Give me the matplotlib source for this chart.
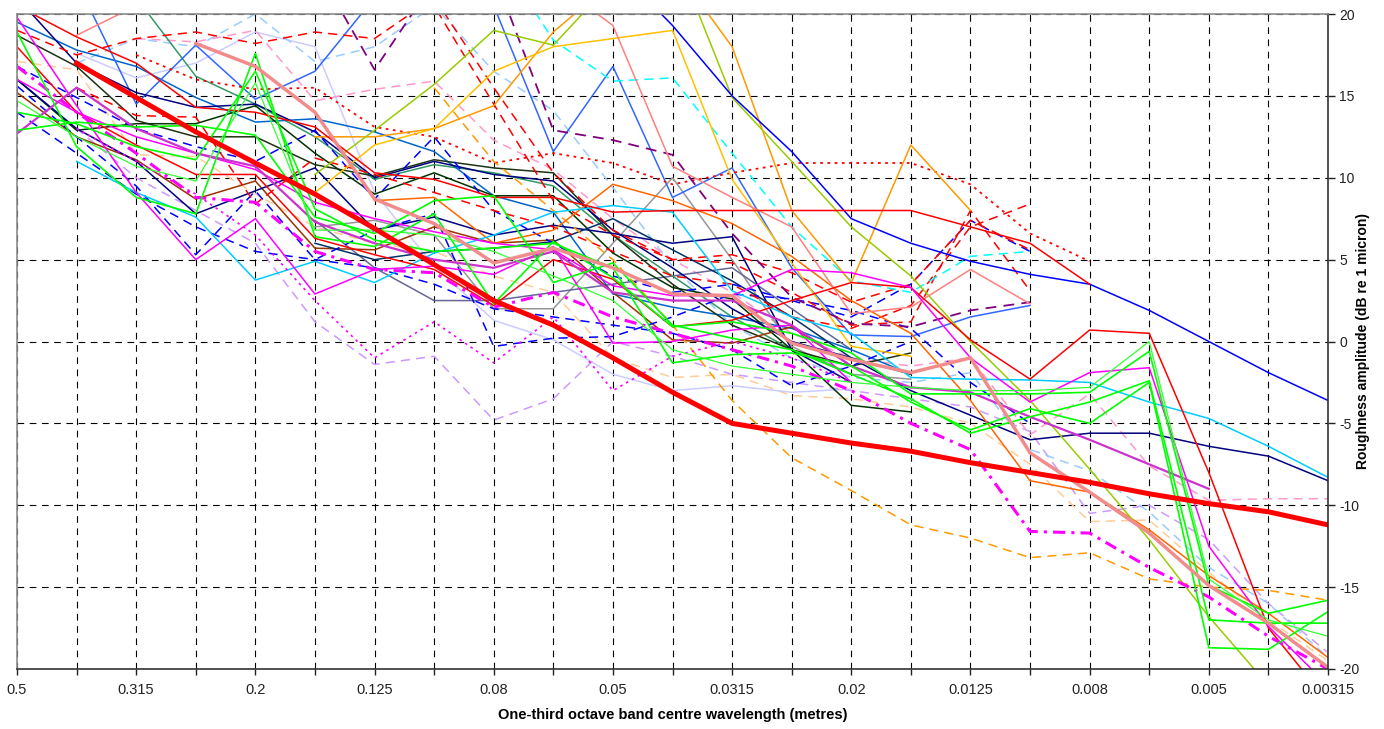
import numpy as np
import matplotlib
matplotlib.use("Agg")
import matplotlib.pyplot as plt

plt.rcParams['font.family'] = ['Liberation Sans', 'DejaVu Sans']
plt.rcParams['axes.unicode_minus'] = False

N = np.nan

# one-third octave band centre wavelengths (m)
bands = ['0.5', '0.4', '0.315', '0.25', '0.2', '0.16', '0.125', '0.1', '0.08',
         '0.063', '0.05', '0.04', '0.0315', '0.025', '0.02', '0.016', '0.0125',
         '0.01', '0.008', '0.0063', '0.005', '0.004', '0.00315']

# roughness levels, dB re 1 micron
limit = [N, 17.0, 14.9, 12.8, 10.9, 9.0, 6.9, 4.7, 2.5, 1.0, -1.0, -3.1, -5.0, -5.6, -6.2, -6.7, -7.4, -8.0, -8.6, -9.3, -9.9, -10.4, -11.2]
salmon_thick = [N, N, N, 18.2, 16.8, 14.0, 8.7, 7.2, 4.8, 5.7, 4.5, 2.9, 2.8, -0.1, -1.1, -1.9, -1.0, -6.8, -9.2, -11.7, -14.9, -17.2, -19.9]
blue_long = [N, N, N, N, N, N, N, N, N, N, 23.0, 19.3, 15.0, 11.6, 7.5, 6.0, 4.9, 4.1, 3.5, 1.9, 0.0, -1.9, -3.6]
navy_long = [21.0, 17.0, 15.2, 14.3, 14.5, 12.8, 10.0, 11.0, 10.2, 9.8, 6.8, 4.5, 2.0, 0.0, -1.0, -3.0, -4.5, -6.0, -5.6, -5.6, -6.4, -7.0, -8.5]
sky = [N, 11.0, 9.1, 7.6, 3.75, 4.9, 3.6, 5.4, 6.5, 7.9, 8.3, 7.9, 3.1, 1.5, 0.5, -2.2, -2.3, -2.35, -2.5, -3.7, -4.7, -6.4, -8.3]
red_bump = [18.0, 14.0, 12.0, 10.2, 10.2, 6.3, 5.3, 4.4, 2.2, 5.0, 3.8, 0.9, 1.3, 2.5, 3.6, 3.3, 0.1, -2.3, 0.7, 0.5, -8.0, -17.5, -22.0]
red_plateau = [20.5, 18.6, 17.0, 14.3, 14.0, 13.1, 10.3, 9.9, 8.8, 8.8, 7.9, 8.0, 8.0, 8.0, 8.0, 8.0, 7.0, 6.0, 3.5, N, N, N, N]
orange_spike = [N, N, N, N, N, 12.5, 12.5, 13.0, 14.4, 18.9, 22.0, 23.0, 18.0, 8.0, 3.6, 12.0, 8.0, N, N, N, N, N, N]
gold = [N, N, N, N, N, 9.1, 12.0, 13.0, 16.5, 18.0, 18.5, 19.0, 9.9, 4.8, -0.3, -0.9, N, N, N, N, N, N, N]
yellowgreen = [N, N, N, N, N, 10.2, 12.9, 15.7, 19.0, 18.1, 22.0, 24.0, 14.9, 11.0, 7.0, 4.0, 0.0, -3.6, -7.8, -12.1, -16.8, -21.0, N]
salmon_thin = [N, 18.7, 20.5, 22.0, 23.0, 23.0, 23.0, 24.0, 24.0, 22.0, 19.3, 10.7, 8.8, 7.0, 1.7, 2.1, 4.4, 2.3, N, N, N, N, N]
cyan_dash = [N, N, N, N, N, N, N, N, 24.0, 18.4, 15.9, 16.1, 11.5, 7.0, 3.7, 3.0, 5.2, 5.5, N, N, N, N, N]
purple_dash = [N, N, N, N, N, 23.0, 16.6, 22.0, 22.5, 12.9, 12.3, 11.4, 6.6, 2.7, 1.1, 0.9, 1.9, 2.4, N, N, N, N, N]
lightblue_dash = [N, 17.0, 18.5, 18.0, 20.0, 17.1, 18.0, 20.5, 16.5, 14.1, 9.4, 4.6, 1.0, -1.0, -2.2, -2.5, -1.9, -6.6, -7.9, -10.4, -13.8, -16.0, -19.3]
lavender = [N, 17.6, 16.1, 17.0, 18.9, 18.0, 9.1, 4.6, 1.3, 0.1, -2.0, -3.0, -2.7, -3.1, -2.9, N, N, N, N, N, N, N, N]
lavender_dash = [16.0, 13.0, 10.0, 8.0, 6.0, 1.2, -1.4, -0.9, -4.8, -3.5, 0.0, -0.9, -2.0, -2.5, -3.0, -3.5, -4.0, -5.5, -10.5, -10.0, -12.1, -16.0, -19.0]
magenta1 = [19.8, 14.4, 9.1, 5.0, 7.5, 2.9, 4.4, 4.6, 4.1, 5.8, -0.1, 0.0, 0.7, 1.0, -2.5, N, N, N, N, N, N, N, N]
magenta2 = [16.0, 14.0, 12.5, 11.5, 10.5, 8.5, 7.5, 6.7, 6.0, 5.6, 3.4, 2.8, 2.8, 4.4, 4.2, 3.3, -1.0, -3.7, -1.9, -1.6, -12.5, -17.4, -21.0]
magenta3 = [12.7, 15.5, 13.0, 11.5, 10.7, 7.3, 6.0, 5.0, 4.5, 5.5, 3.0, 2.5, 2.5, 1.0, -1.5, -2.8, -3.1, -4.6, -6.0, -7.5, -9.0, N, N]
magenta_dash = [16.8, 14.0, 11.5, 8.8, 8.5, 5.5, 4.4, 4.2, 2.1, 3.0, 1.5, 0.5, -0.5, -1.5, -3.0, -5.0, -6.6, -11.6, -11.7, -13.8, -15.6, -18.0, -20.0]
magenta_dot = [N, 13.0, 11.0, 9.0, 6.5, 2.5, -1.0, 1.2, -1.3, 1.5, -3.0, -0.9, 0.0, -1.0, -2.5, N, N, N, N, N, N, N, N]
green1 = [18.9, 11.9, 8.8, 7.8, 17.6, 6.4, 5.8, 7.8, 2.3, 6.1, 3.9, 0.9, 1.2, 0.5, -0.7, -3.2, -3.2, -3.2, -3.1, -0.6, -14.9, -16.6, -15.8]
green2 = [14.0, 13.3, 11.9, 11.1, 16.5, 8.1, 6.2, 5.5, 5.7, 6.0, 4.5, -1.3, -0.8, -0.7, -1.5, -3.7, -5.4, -4.1, -5.0, -2.5, -18.7, -18.8, -16.5]
green3 = [12.9, 13.4, 13.1, 13.2, 12.6, 7.6, 6.6, 8.6, 8.9, 3.6, 4.8, 1.0, 0.2, -0.5, -2.0, -3.5, -5.6, -4.6, -3.7, -2.4, -17.0, -17.2, -17.2]
green4 = [14.7, 12.5, 10.7, 9.8, 15.8, 6.8, 6.8, 6.5, 5.5, 4.0, 2.5, -0.5, -1.5, -2.0, -2.5, -2.8, -3.0, -3.0, -2.8, 0.0, -14.5, -17.0, -18.0]
darkgreen1 = [18.7, 16.8, 13.5, 12.5, 12.5, 10.8, 10.1, 11.1, 10.6, 10.3, 6.5, 3.5, 1.0, -0.5, -1.5, -0.7, N, N, N, N, N, N, N]
darkgreen2 = [16.0, 12.9, 13.3, 13.3, 14.4, 11.5, 9.0, 10.3, 8.9, 8.9, 5.4, 3.3, 2.6, -0.5, -3.9, -4.3, N, N, N, N, N, N, N]
brown = [15.2, 12.5, 11.1, 8.7, 9.8, 5.7, 5.6, 7.0, 6.0, 6.2, 3.0, 0.1, -0.1, 0.9, -1.5, N, N, N, N, N, N, N, N]
steelblue = [19.5, 17.8, 16.8, 14.9, 13.4, 13.6, 12.8, 11.6, 8.9, 7.9, 2.9, 2.1, 1.5, 0.8, -0.5, -2.0, N, N, N, N, N, N, N]
royalblue = [N, 22.0, 14.5, 18.1, 14.8, 16.5, 21.0, 23.0, 20.5, 11.6, 16.8, 8.8, 10.6, 4.5, 0.4, 0.3, 1.5, 2.2, N, N, N, N, N]
seagreen = [N, N, 21.0, 16.2, 14.5, 12.5, 9.9, 10.8, 10.3, 9.5, 6.5, 4.0, 1.5, -0.5, -2.0, N, N, N, N, N, N, N, N]
grey = [N, N, N, N, N, 7.0, 7.4, 6.5, 2.0, 2.0, 6.0, 10.0, 5.0, -0.3, -2.0, -2.3, N, N, N, N, N, N, N]
slate = [N, N, N, N, N, 7.4, 4.5, 2.5, 2.5, 3.0, 3.5, 4.0, 4.5, 2.0, -0.5, N, N, N, N, N, N, N, N]
navy2 = [16.0, 13.0, 11.0, 7.8, 9.2, 10.6, 6.8, 7.6, 6.5, 7.1, 6.6, 6.0, 6.4, -0.5, -2.5, N, N, N, N, N, N, N, N]
darknavy = [N, N, N, N, N, 6.0, 5.0, 5.5, 5.7, 6.1, 7.5, 5.6, 3.7, 1.5, -1.0, -2.0, N, N, N, N, N, N, N]
blue_dash1 = [16.8, 14.9, 13.0, 11.9, 11.0, 12.9, 8.7, 12.5, 8.0, 6.0, 4.0, 3.0, 3.5, 2.5, 1.5, 3.5, 7.4, 5.5, N, N, N, N, N]
blue_dash2 = [15.6, 12.5, 9.5, 5.3, 9.2, 5.0, 6.8, 7.8, -0.3, 0.2, 0.3, 1.5, 2.9, 2.6, 1.9, 0.8, -2.5, -5.0, N, N, N, N, N]
blue_dash3 = [14.0, 11.5, 9.0, 7.0, 5.5, 5.0, 4.5, 3.5, 2.0, 1.5, 1.0, 0.5, -0.5, -2.7, -1.5, 0.0, N, N, N, N, N, N, N]
red_dash1 = [19.0, 17.5, 18.5, 18.9, 18.2, 18.9, 18.5, 21.0, 15.5, 10.3, 6.8, 5.0, 4.8, 3.0, 1.0, 1.2, 8.0, 3.1, N, N, N, N, N]
red_dash2 = [N, N, N, N, N, N, 24.0, 20.5, 14.5, 8.6, 6.5, 5.0, 5.3, 4.2, 2.4, 3.5, 7.4, 5.6, N, N, N, N, N]
red_dash3 = [N, 15.5, 13.8, 13.7, 8.4, 11.2, 10.2, 9.1, 8.0, 7.0, 5.5, 4.0, 3.5, 1.5, 0.8, 2.2, 7.0, 8.4, N, N, N, N, N]
red_dot = [N, N, 17.5, 16.0, 15.4, 15.5, 13.1, 12.5, 10.9, 11.5, 10.9, 9.6, 10.3, 10.9, 10.9, 10.9, 9.6, 6.6, 4.9, N, N, N, N]
pink_dash = [N, N, 18.5, 18.3, 19.0, 14.7, 15.4, 15.9, 12.3, 10.5, 7.5, 5.0, 3.0, 0.5, -1.0, -1.5, -1.0, -5.7, -3.2, -7.6, -9.7, -9.6, -9.6]
orange_dash = [N, N, N, N, N, N, N, 15.5, 11.0, 8.0, 5.0, 1.0, -3.6, -7.1, -9.1, -11.2, -12.0, -13.2, -12.9, -14.5, -15.0, -15.2, -15.8]
peach_dash = [17.1, 16.6, 11.4, 11.3, 9.0, 7.0, 6.0, 5.5, 4.0, 3.0, -1.0, -2.2, -2.0, -3.3, -3.5, -4.0, -5.0, -7.5, -11.0, -10.9, -14.1, -17.0, -19.5]
orange2 = [N, N, N, N, N, N, 8.6, 8.8, 6.0, 6.8, 9.6, 8.6, 7.2, 5.2, 2.5, 0.5, -3.6, -8.5, -9.2, -11.5, -14.3, -16.6, -19.3]

dash = (0, (6, 4))
dot = (0, (1.5, 2.5))

# (values, colour, linestyle, width)
series = [
    (peach_dash, '#FFCC99', dash, 1.1),
    (lavender, '#CCCCFF', '-', 1.1),
    (lavender_dash, '#CC99FF', dash, 1.1),
    (lightblue_dash, '#99CCFF', dash, 1.1),
    (pink_dash, '#FF99CC', dash, 1.1),
    (grey, '#969696', '-', 1.1),
    (slate, '#666699', '-', 1.1),
    (seagreen, '#339966', '-', 1.1),
    (steelblue, '#0066CC', '-', 1.1),
    (royalblue, '#3366FF', '-', 1.1),
    (darkgreen1, '#1E3314', '-', 1.1),
    (darkgreen2, '#003300', '-', 1.1),
    (brown, '#993300', '-', 1.1),
    (navy_long, '#000080', '-', 1.1),
    (navy2, '#000080', '-', 1.1),
    (darknavy, '#003366', '-', 1.1),
    (blue_dash1, '#0000FF', dash, 1.1),
    (blue_dash2, '#0000FF', dash, 1.1),
    (blue_dash3, '#0000FF', dash, 1.1),
    (red_dash1, '#FF0000', dash, 1.1),
    (red_dash2, '#FF0000', dash, 1.1),
    (red_dash3, '#FF0000', dash, 1.1),
    (red_dot, '#FF0000', dot, 1.3),
    (purple_dash, '#800080', dash, 1.3),
    (cyan_dash, '#00FFFF', dash, 1.1),
    (orange_dash, '#FF9900', dash, 1.1),
    (orange2, '#FF6600', '-', 1.1),
    (orange_spike, '#FF9900', '-', 1.1),
    (gold, '#FFC000', '-', 1.1),
    (yellowgreen, '#99CC00', '-', 1.1),
    (salmon_thin, '#FF8080', '-', 1.1),
    (sky, '#00CCFF', '-', 1.1),
    (blue_long, '#0000FF', '-', 1.1),
    (red_bump, '#FF0000', '-', 1.1),
    (red_plateau, '#FF0000', '-', 1.1),
    (magenta_dot, '#FF00FF', dot, 1.2),
    (magenta1, '#FF00FF', '-', 1.1),
    (magenta2, '#FF00FF', '-', 1.1),
    (magenta3, '#CC33CC', '-', 1.6),
    (magenta_dash, '#FF00FF', (0, (4, 2, 1, 2)), 2.2),
    (green1, '#00FF00', '-', 1.2),
    (green2, '#00FF00', '-', 1.2),
    (green3, '#00FF00', '-', 1.2),
    (green4, '#33FF33', '-', 0.9),
    (salmon_thick, '#F28C8C', '-', 2.5),
    (limit, '#FF0000', '-', 3.6),
]

fig = plt.figure(figsize=(13.84, 7.29), dpi=100)
ax = fig.add_axes([17 / 1384, 1 - 669 / 729, (1328 - 17) / 1384, (669 - 14) / 729])

x = np.arange(len(bands))
for vals, col, ls, lw in series:
    ax.plot(x, vals, color=col, linestyle=ls, linewidth=lw, solid_joinstyle='miter')

ax.set_xlim(0, len(bands) - 1)
ax.set_ylim(-20, 20)
ax.set_xticks(x)
ax.set_xticklabels([b if i % 2 == 0 else '' for i, b in enumerate(bands)])
ax.set_yticks(np.arange(-20, 21, 5))

ax.yaxis.tick_right()
ax.tick_params(axis='x', direction='out', length=4, width=1, pad=6, labelsize=10.5, colors='#222222')
ax.tick_params(axis='y', direction='out', length=5, width=1, pad=3, labelsize=10, colors='#222222')

ax.grid(True, color='black', linestyle=(0, (6, 5)), linewidth=0.8)
ax.set_axisbelow(True)

for s in ['left', 'top']:
    ax.spines[s].set_color('#8C8C8C')
    ax.spines[s].set_linewidth(1.2)
for s in ['right', 'bottom']:
    ax.spines[s].set_color('#333333')
    ax.spines[s].set_linewidth(1.2)

ax.set_xlabel('One-third octave band centre wavelength (metres)', fontsize=10.5, fontweight='bold', labelpad=8)
# y label sits just right of the tick labels, like the original
fig.text(1363 / 1384, 1 - 341 / 729, 'Roughness amplitude (dB re 1 micron)', rotation=90,
         ha='center', va='center', fontsize=10, fontweight='bold')

fig.savefig('out.png', dpi=100)
